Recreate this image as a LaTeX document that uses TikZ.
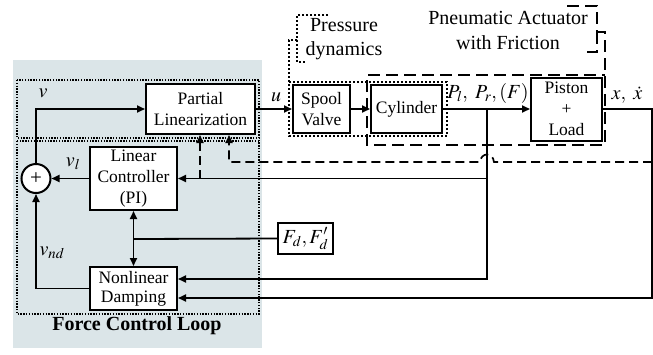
\documentclass[tikz,border=0pt]{standalone}
\usepackage{mathptmx}
\usepackage{fontspec}
\setmainfont{Liberation Serif}
\usetikzlibrary{arrows.meta}
\definecolor{bgc}{RGB}{219,229,232}
\newcommand{\bxf}{\fontsize{17.5}{21}\selectfont}
\newcommand{\lbf}{\fontsize{20}{24}\selectfont}
\tikzset{
  box/.style={draw, line width=2pt, fill=white, align=center, inner sep=0pt, font=\bxf},
  conn/.style={line width=1.8pt},
  arr/.style={-{Triangle[length=8pt,width=7pt]}},
  dsh/.style={line width=1.7pt, dash pattern=on 9pt off 5pt},
  dotline/.style={line width=1.2pt, dash pattern=on 1.4pt off 1.4pt},
  dotthick/.style={line width=1.8pt, dash pattern=on 2pt off 2pt},
  longdash/.style={line width=1.8pt, dash pattern=on 12pt off 6pt},
  lbl/.style={font=\lbf, inner sep=0pt, align=center}
}
\begin{document}
\begin{tikzpicture}[x=1pt,y=-1pt]
\useasboundingbox (0,0) rectangle (653,354);
% background and force control loop
\fill[bgc] (13,60) rectangle (262,348);
\draw[dotline] (17,80) rectangle (259,138);
\draw[dotline] (17,141) rectangle (259,314);
\node[lbl, font=\fontsize{20}{24}\selectfont\bfseries] (fcl) at (137,326) {Force Control Loop};

% pressure dynamics dotted enclosure
\draw[dotthick] (328,15) -- (297,15) -- (297,40) -- (289,40) -- (289,136) -- (447,136) -- (447,82) -- (289,82);
\draw[dotthick] (297,40) -- (297,62) -- (305,62);
\node[lbl] (pd) at (344,39) {Pressure\\dynamics};

% pneumatic actuator dashed enclosure
\draw[longdash] (567,6) -- (597,6) -- (597,32) -- (605,32) -- (605,145) -- (367,145) -- (367,75) -- (605,75);
\draw[longdash] (597,32) -- (597,52) -- (582,52);
\node[lbl, font=\fontsize{20}{25}\selectfont] (pa) at (508,30) {Pneumatic Actuator\\with Friction};

% blocks
\node[box, minimum width=109pt, minimum height=50pt] (pl) at (200.5,109) {Partial\\Linearization};
\node[box, minimum width=87pt, minimum height=63pt] (lc) at (133.5,178.5) {Linear\\Controller\\(PI)};
\node[box, minimum width=87pt, minimum height=43pt, font=\fontsize{17.5}{19}\selectfont] (nd) at (133.5,288.5) {Nonlinear\\Damping};
\node[draw, circle, line width=2pt, minimum size=29pt, inner sep=0pt, fill=white, font=\fontsize{21}{21}\selectfont] (sum) at (36,178.5) {+};
\node[box, minimum width=55pt, minimum height=31pt, font=\lbf] (fd) at (305.5,238.5) {$F_{d}, F_{d}'$};
\node[box, minimum width=57pt, minimum height=48pt] (sv) at (321.5,109) {Spool\\Valve};
\node[box, minimum width=71pt, minimum height=48pt] (cyl) at (406.5,109) {Cylinder};
\node[box, minimum width=71pt, minimum height=63pt] (pis) at (566.5,109) {Piston\\+\\Load};

% helper coordinates
\coordinate (xo) at (652,109);
\coordinate (br) at (487,109);
\coordinate (r1) at (0,279);
\coordinate (r2) at (0,298);
\coordinate (d1) at (200,178.5);
\coordinate (d2) at (229,162);
\coordinate (hopR) at (494,162);
\coordinate (hopL) at (480,162);
\coordinate (fj) at (134,239);

% forward path
\draw[conn,arr] (sum.north) |- (pl.west);
\draw[conn,arr] (pl.east) -- (sv.west);
\draw[conn,arr] (sv.east) -- (cyl.west);
\draw[conn,arr] (cyl.east) -- (pis.west);
\draw[conn,arr] (pis.east) -- (xo) |- (nd.east |- r2);
\draw[conn,arr] (br) |- (nd.east |- r1);
\draw[conn,arr] (br |- lc.east) -- (lc.east);
\draw[conn,arr] (lc.west) -- (sum.east);
\draw[conn,arr] (nd.west) -| (sum.south);
\draw[conn] (fd.west) -- (fj);
\draw[conn,{Triangle[length=8pt,width=7pt]}-{Triangle[length=8pt,width=7pt]}] (lc.south) -- (nd.north);

% dashed feedback to partial linearization
\draw[dsh,arr] (d1) -- (d1 |- pl.south);
\draw[dsh,arr] (xo |- d2) -- (hopR) .. controls (493,152) and (481,152) .. (hopL) -- (d2) -- (d2 |- pl.south);

% labels
\node[lbl] (lv) at (43,93) {$v$};
\node[lbl] (lu) at (276,97) {$u$};
\node[lbl] (lvl) at (73,164) {$v_{l}$};
\node[lbl] (lvnd) at (52,253) {$v_{nd}$};
\node[lbl] (lp) at (488,93) {$P_{l},\ P_{r},(F)$};
\node[lbl] (lx) at (627,95) {$x,\ \dot{x}$};
\end{tikzpicture}
\end{document}
